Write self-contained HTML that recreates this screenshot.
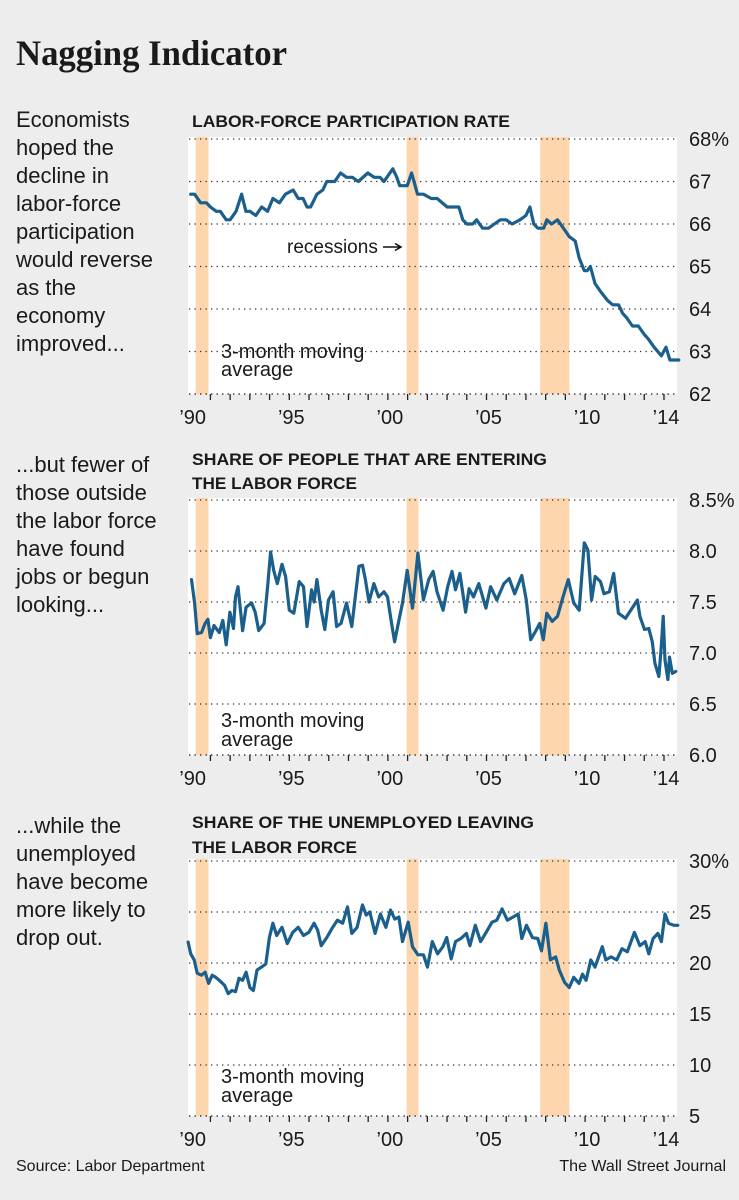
<!DOCTYPE html>
<html><head><meta charset="utf-8"><style>
html,body{margin:0;padding:0;background:#ededed;}
svg{display:block;}
text{font-family:"Liberation Sans",sans-serif;fill:#1a1a1a;}
</style></head><body>
<svg id="root" width="739" height="1200" viewBox="0 0 739 1200" xmlns="http://www.w3.org/2000/svg">
<rect x="0" y="0" width="739" height="1200" fill="#ededed"/>
<text x="16" y="65" font-family="Liberation Serif, serif" font-weight="bold" font-size="36" textLength="271" lengthAdjust="spacingAndGlyphs" style="font-family:'Liberation Serif',serif">Nagging Indicator</text>
<g font-size="22">
<text x="16" y="127">Economists</text><text x="16" y="155">hoped the</text><text x="16" y="183">decline in</text><text x="16" y="211">labor-force</text><text x="16" y="239">participation</text><text x="16" y="267">would reverse</text><text x="16" y="295">as the</text><text x="16" y="323">economy</text><text x="16" y="351">improved...</text>
</g>
<g font-size="22">
<text x="16" y="472">...but fewer of</text><text x="16" y="500">those outside</text><text x="16" y="528">the labor force</text><text x="16" y="556">have found</text><text x="16" y="584">jobs or begun</text><text x="16" y="612">looking...</text>
</g>
<g font-size="22">
<text x="16" y="833">...while the</text><text x="16" y="861">unemployed</text><text x="16" y="889">have become</text><text x="16" y="917">more likely to</text><text x="16" y="945">drop out.</text>
</g>
<text x="16" y="1171" font-size="16">Source: Labor Department</text>
<text x="726" y="1171" font-size="16" text-anchor="end">The Wall Street Journal</text>
<g id="charts"></g>
</svg>
<script>
// ---------- data ----------
const recessionStarts = [1990.25, 2000.95, 2007.72];
const recessionEnds = [1990.9, 2001.55, 2009.2];
const yearTicks = [1991,1992,1993,1994,1995,1996,1997,1998,1999,2000,2001,2002,2003,2004,2005,2006,2007,2008,2009,2010,2011,2012,2013,2014];
const yearLabelYears = [1990,1995,2000,2005,2010,2014];
const yearLabels = ["’90","’95","’00","’05","’10","’14"];

const p1Ticks = [62,63,64,65,66,67,68];
const p1TickLabels = ["62","63","64","65","66","67","68%"];
const p1Years = [1990.0,1990.2,1990.5,1990.8,1991.0,1991.3,1991.5,1991.8,1992.0,1992.3,1992.58,1992.8,1993.0,1993.3,1993.6,1993.9,1994.17,1994.5,1994.8,1995.2,1995.45,1995.7,1995.9,1996.08,1996.4,1996.7,1996.9,1997.3,1997.6,1997.9,1998.2,1998.5,1998.98,1999.3,1999.6,1999.8,2000.25,2000.45,2000.6,2000.98,2001.2,2001.5,2001.8,2002.2,2002.5,2003.0,2003.6,2003.8,2004.0,2004.3,2004.5,2004.8,2005.1,2005.4,2005.7,2006.0,2006.3,2006.7,2007.0,2007.2,2007.4,2007.6,2007.9,2008.06,2008.3,2008.6,2008.9,2009.2,2009.5,2009.7,2009.96,2010.1,2010.27,2010.5,2010.8,2011.14,2011.4,2011.7,2011.9,2012.1,2012.4,2012.7,2013.0,2013.2,2013.5,2013.87,2014.1,2014.3,2014.75];
const p1Values = [66.7,66.7,66.5,66.5,66.4,66.3,66.3,66.1,66.1,66.3,66.7,66.3,66.3,66.2,66.4,66.3,66.6,66.5,66.7,66.8,66.6,66.6,66.4,66.4,66.7,66.8,67.0,67.0,67.2,67.1,67.1,67.0,67.2,67.1,67.1,67.0,67.3,67.1,66.9,66.9,67.2,66.7,66.7,66.6,66.6,66.4,66.4,66.1,66.0,66.0,66.1,65.9,65.9,66.0,66.1,66.1,66.0,66.1,66.2,66.4,66.0,65.9,65.9,66.1,66.0,66.1,65.9,65.7,65.6,65.2,64.9,64.9,65.0,64.6,64.4,64.2,64.1,64.1,63.9,63.8,63.6,63.6,63.4,63.3,63.1,62.9,63.1,62.8,62.8];

const p2Ticks = [6.0,6.5,7.0,7.5,8.0,8.5];
const p2TickLabels = ["6.0","6.5","7.0","7.5","8.0","8.5%"];
const p2Years = [1990.04,1990.2,1990.33,1990.55,1990.73,1990.87,1991.0,1991.18,1991.45,1991.63,1991.8,1991.99,1992.17,1992.27,1992.4,1992.63,1992.81,1993.09,1993.27,1993.45,1993.72,1993.9,1994.05,1994.21,1994.39,1994.63,1994.81,1995.0,1995.23,1995.5,1995.72,1995.9,1996.13,1996.26,1996.4,1996.62,1996.8,1996.99,1997.22,1997.4,1997.62,1997.9,1998.17,1998.53,1998.71,1998.86,1999.04,1999.29,1999.53,1999.8,1999.98,2000.16,2000.34,2000.56,2000.74,2000.98,2001.25,2001.52,2001.8,2002.07,2002.29,2002.49,2002.8,2003.03,2003.25,2003.43,2003.65,2003.94,2004.12,2004.34,2004.61,2004.97,2005.21,2005.52,2005.88,2006.15,2006.43,2006.79,2007.02,2007.24,2007.48,2007.7,2007.88,2008.06,2008.33,2008.6,2008.88,2009.15,2009.42,2009.7,2009.96,2010.14,2010.33,2010.51,2010.78,2010.96,2011.23,2011.45,2011.69,2012.05,2012.42,2012.65,2012.78,2013.01,2013.23,2013.41,2013.54,2013.74,2013.87,2013.96,2014.05,2014.2,2014.28,2014.42,2014.6];
const p2Values = [7.72,7.49,7.19,7.2,7.29,7.33,7.15,7.27,7.2,7.32,7.08,7.4,7.24,7.55,7.65,7.22,7.45,7.49,7.4,7.22,7.29,7.65,7.99,7.81,7.68,7.87,7.75,7.42,7.39,7.7,7.65,7.26,7.62,7.5,7.72,7.42,7.23,7.52,7.6,7.26,7.29,7.49,7.26,7.85,7.86,7.72,7.5,7.68,7.55,7.6,7.55,7.32,7.11,7.32,7.49,7.81,7.44,7.98,7.52,7.72,7.8,7.6,7.42,7.65,7.8,7.62,7.78,7.4,7.63,7.55,7.68,7.44,7.65,7.52,7.68,7.73,7.58,7.76,7.52,7.13,7.21,7.29,7.13,7.39,7.31,7.36,7.55,7.72,7.49,7.42,8.08,8.01,7.52,7.75,7.7,7.58,7.6,7.78,7.39,7.34,7.45,7.52,7.36,7.23,7.24,7.11,6.9,6.77,7.08,7.36,6.93,6.74,6.96,6.8,6.82];

const p3Ticks = [5,10,15,20,25,30];
const p3TickLabels = ["5","10","15","20","25","30%"];
const p3Years = [1989.87,1990.0,1990.18,1990.33,1990.55,1990.73,1990.91,1991.09,1991.27,1991.45,1991.72,1991.9,1992.09,1992.27,1992.45,1992.63,1992.81,1993.0,1993.18,1993.36,1993.59,1993.81,1993.99,1994.17,1994.36,1994.63,1994.9,1995.17,1995.45,1995.72,1995.99,1996.26,1996.44,1996.62,1996.9,1997.17,1997.44,1997.71,1997.95,1998.17,1998.44,1998.71,1998.9,1999.08,1999.35,1999.62,1999.9,2000.13,2000.35,2000.56,2000.74,2001.03,2001.25,2001.52,2001.8,2002.01,2002.25,2002.52,2002.79,2002.98,2003.21,2003.43,2003.7,2003.98,2004.16,2004.43,2004.7,2004.98,2005.28,2005.52,2005.79,2006.06,2006.34,2006.61,2006.79,2007.03,2007.33,2007.6,2007.79,2008.01,2008.24,2008.51,2008.69,2008.96,2009.2,2009.42,2009.69,2009.87,2010.05,2010.29,2010.5,2010.87,2011.05,2011.32,2011.6,2011.87,2012.14,2012.5,2012.78,2013.05,2013.23,2013.45,2013.69,2013.87,2014.05,2014.23,2014.5,2014.7];
const p3Values = [22.06,20.9,20.3,19.0,18.8,19.1,18.0,18.8,18.6,18.3,17.8,17.0,17.3,17.2,18.5,18.3,19.1,17.6,17.3,19.3,19.6,19.9,22.5,23.9,22.7,23.5,21.9,23.0,23.5,22.7,23.0,23.9,23.2,21.7,22.5,23.4,24.2,23.9,25.5,22.9,23.5,25.7,24.7,25.0,22.9,24.8,23.5,25.2,24.3,24.5,22.1,24.0,21.6,20.8,20.8,19.6,22.1,20.9,21.6,22.5,20.4,22.1,22.4,22.9,21.7,23.7,22.1,23.0,24.0,24.2,25.3,24.2,24.5,24.8,22.4,23.7,22.5,22.4,21.2,23.9,20.3,20.6,19.3,18.1,17.6,18.6,18.0,18.9,18.3,20.3,19.6,21.6,20.3,20.6,20.3,21.4,21.1,23.0,21.7,22.1,20.9,22.4,22.9,22.1,24.8,23.9,23.7,23.7];

// ---------- layout ----------
const NS = "http://www.w3.org/2000/svg";
const X0 = 190.7, PXY = 19.72;
function xScale(yr){ return X0 + (yr - 1990) * PXY; }
function mk(tag, attrs, parent){
  const e = document.createElementNS(NS, tag);
  for (const k in attrs) e.setAttribute(k, attrs[k]);
  parent.appendChild(e); return e;
}
const panels = [
  {name:"participation-rate", title:["LABOR-FORCE PARTICIPATION RATE"], titleY:[127], titleLen:[318],
   top:139, bottom:394, vmin:62, vmax:68, ticks:p1Ticks, tickLabels:p1TickLabels, years:p1Years, values:p1Values,
   noteY:[358,376], recessionNote:true},
  {name:"entering-labor-force", title:["SHARE OF PEOPLE THAT ARE ENTERING","THE LABOR FORCE"], titleY:[465,489], titleLen:[355,165],
   top:500, bottom:755, vmin:6.0, vmax:8.5, ticks:p2Ticks, tickLabels:p2TickLabels, years:p2Years, values:p2Values,
   noteY:[727,746]},
  {name:"unemployed-leaving", title:["SHARE OF THE UNEMPLOYED LEAVING","THE LABOR FORCE"], titleY:[828,853], titleLen:[342,165],
   top:861, bottom:1116, vmin:5, vmax:30, ticks:p3Ticks, tickLabels:p3TickLabels, years:p3Years, values:p3Values,
   noteY:[1083,1102]}
];
const root = document.getElementById("charts");
panels.forEach(function(p){
  const g = mk("g", {}, root);
  
  
  const yScale = function(v){ return p.bottom - (v - p.vmin) / (p.vmax - p.vmin) * (p.bottom - p.top); };
  p.title.forEach(function(t, i){
    const tt = mk("text", {x:192, y:p.titleY[i], "font-size":17, "font-weight":"bold", textLength:p.titleLen[i], lengthAdjust:"spacingAndGlyphs"}, g);
    tt.textContent = t;
    
    
  });
  const bg = mk("rect", {x:188, y:p.top-2, width:489, height:p.bottom-p.top+2, fill:"#ffffff"}, g);
  
  
  recessionStarts.forEach(function(s, i){
    const r = mk("rect", {x:xScale(s), y:p.top-2, width:xScale(recessionEnds[i])-xScale(s), height:p.bottom-p.top+2, fill:"#fdd6ae"}, g);
    
    
  });
  p.ticks.forEach(function(v, i){
    const y = yScale(v);
    const l = mk("line", {x1:189, x2:677, y1:y, y2:y, stroke:"#333", "stroke-width":1.3, "stroke-dasharray":"1.3 4.2"}, g);
    
    
    const t = mk("text", {x:689, y:y+7, "font-size":20}, g);
    t.textContent = p.tickLabels[i];
    
    
  });
  const ax = mk("line", {x1:189, x2:677, y1:p.bottom, y2:p.bottom, stroke:"#333", "stroke-width":1.2, "stroke-dasharray":i=>""}, g);
  ax.setAttribute("stroke-dasharray", "1.3 4.2");
  
  
  yearTicks.forEach(function(yr){
    const tk = mk("line", {x1:xScale(yr), x2:xScale(yr), y1:p.bottom, y2:p.bottom+6, stroke:"#222", "stroke-width":1.3}, g);
    
    
  });
  yearLabelYears.forEach(function(yr, i){
    const t = mk("text", {x:xScale(yr)+2, y:p.bottom+30, "font-size":20, "text-anchor":"middle"}, g);
    t.textContent = yearLabels[i];
    
    
  });
  let d = "";
  p.years.forEach(function(yr, i){ d += (i ? "L" : "M") + xScale(yr).toFixed(1) + " " + yScale(p.values[i]).toFixed(1); });
  const path = mk("path", {d:d, fill:"none", stroke:"#1b5f8c", "stroke-width":3.2, "stroke-linejoin":"round", "stroke-linecap":"round"}, g);
  
  
  const n1 = mk("text", {x:221, y:p.noteY[0], "font-size":20}, g);
  n1.textContent = "3-month moving";
  
  
  const n2 = mk("text", {x:221, y:p.noteY[1], "font-size":20}, g);
  n2.textContent = "average";
  
  
  if (p.recessionNote){
    const rn = mk("text", {x:287, y:253, "font-size":19}, g);
    rn.textContent = "recessions";
    
    
    const ar = mk("path", {d:"M383 247 L400 247 M395 243.5 L401 247 L395 250.5", stroke:"#111", "stroke-width":1.5, fill:"none"}, g);
    
    
  }
});
</script>
</body></html>
